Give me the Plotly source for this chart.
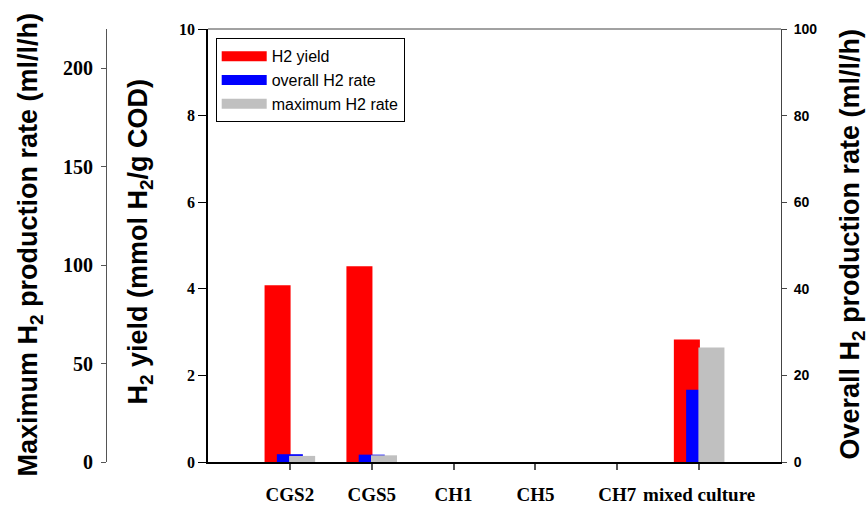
import plotly.graph_objects as go

# ---- data ----
categories = ["CGS2", "CGS5", "CH1", "CH5", "CH7", "mixed culture"]
cat_pos = [0, 1, 2, 3, 4, 5]
h2_yield = [4.08, 4.52, 0, 0, 0, 2.83]            # mmol H2/g COD (middle-left axis)
overall_rate = [1.8, 1.7, 0, 0, 0, 16.7]          # ml/l/h (right axis)
max_rate = [3.1, 3.4, 0, 0, 0, 58.2]              # ml/l/h (far-left axis)

yield_ticks = [0, 2, 4, 6, 8, 10]
overall_ticks = [0, 20, 40, 60, 80, 100]
max_ticks = [0, 50, 100, 150, 200]

W, H = 868, 505
L, R, T, B = 0, 87, 29, 40
plot_w = W - L - R          # 781
plot_h = H - T - B          # 436
x_left_px = 208
dom0 = x_left_px / plot_w

serif = "Liberation Serif, Times New Roman, serif"
sans = "Liberation Sans, Arial, sans-serif"

RED, BLUE, GRAY = "#ff0000", "#0000ff", "#c0c0c0"
bw = 0.318

fig = go.Figure()
fig.add_trace(go.Bar(x=cat_pos, y=h2_yield, name="H2 yield", marker=dict(color=RED, line=dict(width=0)),
                     width=bw, offset=-0.309, xaxis="x", yaxis="y", showlegend=False))
fig.add_trace(go.Bar(x=cat_pos, y=overall_rate, name="overall H2 rate", marker=dict(color=BLUE, line=dict(width=0)),
                     width=bw, offset=-0.159, xaxis="x", yaxis="y2", showlegend=False))
fig.add_trace(go.Bar(x=cat_pos, y=max_rate, name="maximum H2 rate", marker=dict(color=GRAY, line=dict(width=0)),
                     width=bw, offset=-0.009, xaxis="x", yaxis="y3", showlegend=False))

# legend entries (wide swatches like the reference)
for nm, col in [("H2 yield", RED), ("overall H2 rate", BLUE), ("maximum H2 rate", GRAY)]:
    fig.add_trace(go.Scatter(x=[None], y=[None], mode="lines", name=nm,
                             line=dict(color=col, width=14), xaxis="x", yaxis="y"))

def py(px):
    return (T + plot_h - px) / plot_h

title_font = dict(family=sans, size=27, color="black", weight="bold")

fig.update_layout(
    width=W, height=H,
    margin=dict(l=L, r=R, t=T, b=B, pad=0),
    paper_bgcolor="white", plot_bgcolor="white",
    barmode="overlay",
    showlegend=True,
    legend=dict(x=215.7 / plot_w, y=py(38.3), xanchor="left", yanchor="top",
                bordercolor="black", borderwidth=1, bgcolor="white",
                font=dict(family=sans, size=16, color="black"), itemwidth=45,
                tracegroupgap=0),
    xaxis=dict(domain=[dom0, 1], range=[-1, 6], tickvals=cat_pos, ticktext=categories,
               showline=True, linecolor="black", linewidth=2, ticks="outside", ticklen=6,
               tickcolor="#555", tickwidth=1.5, showgrid=False, zeroline=False,
               tickfont=dict(family=serif, size=19, color="black", weight="bold"),
               ticklabelstandoff=8),
    yaxis=dict(range=[0, 10], tickvals=yield_ticks, anchor="x", side="left",
               showline=True, linecolor="black", linewidth=1.5, ticks="outside", ticklen=8,
               tickcolor="black", showgrid=False, zeroline=False,
               tickfont=dict(family=serif, size=16, color="black", weight="bold")),
    yaxis2=dict(range=[0, 100], tickvals=overall_ticks, anchor="x", overlaying="y", side="right",
                showline=True, linecolor="#444", linewidth=1, ticks="outside", ticklen=5,
                tickcolor="#444", showgrid=False, zeroline=False,
                tickfont=dict(family=sans, size=14, color="black", weight="bold"),
                ticklabelstandoff=4),
    yaxis3=dict(range=[0, 220], tickvals=max_ticks, anchor="free", overlaying="y", side="left",
                position=106 / plot_w, showline=True, linecolor="#555", linewidth=1,
                ticks="outside", ticklen=5, tickcolor="#555", showgrid=False, zeroline=False,
                tickfont=dict(family=serif, size=20, color="black", weight="bold"),
                ticklabelstandoff=4),
    shapes=[dict(type="line", xref="paper", yref="paper", x0=dom0, x1=1, y0=1, y1=1,
                 line=dict(color="#444", width=1))],
    annotations=[
        dict(text="Maximum H<sub>2</sub> production rate (ml/l/h)", xref="paper", yref="paper",
             x=30 / plot_w, y=py(246), textangle=-90, showarrow=False,
             xanchor="center", yanchor="middle", font=title_font),
        dict(text="H<sub>2</sub> yield (mmol H<sub>2</sub>/g COD)", xref="paper", yref="paper",
             x=140 / plot_w, y=py(243), textangle=-90, showarrow=False,
             xanchor="center", yanchor="middle", font=title_font),
        dict(text="Overall H<sub>2</sub> production rate (ml/l/h)", xref="paper", yref="paper",
             x=852 / plot_w, y=py(245), textangle=-90, showarrow=False,
             xanchor="center", yanchor="middle", font=title_font),
    ],
)

fig.write_html("out.html")
